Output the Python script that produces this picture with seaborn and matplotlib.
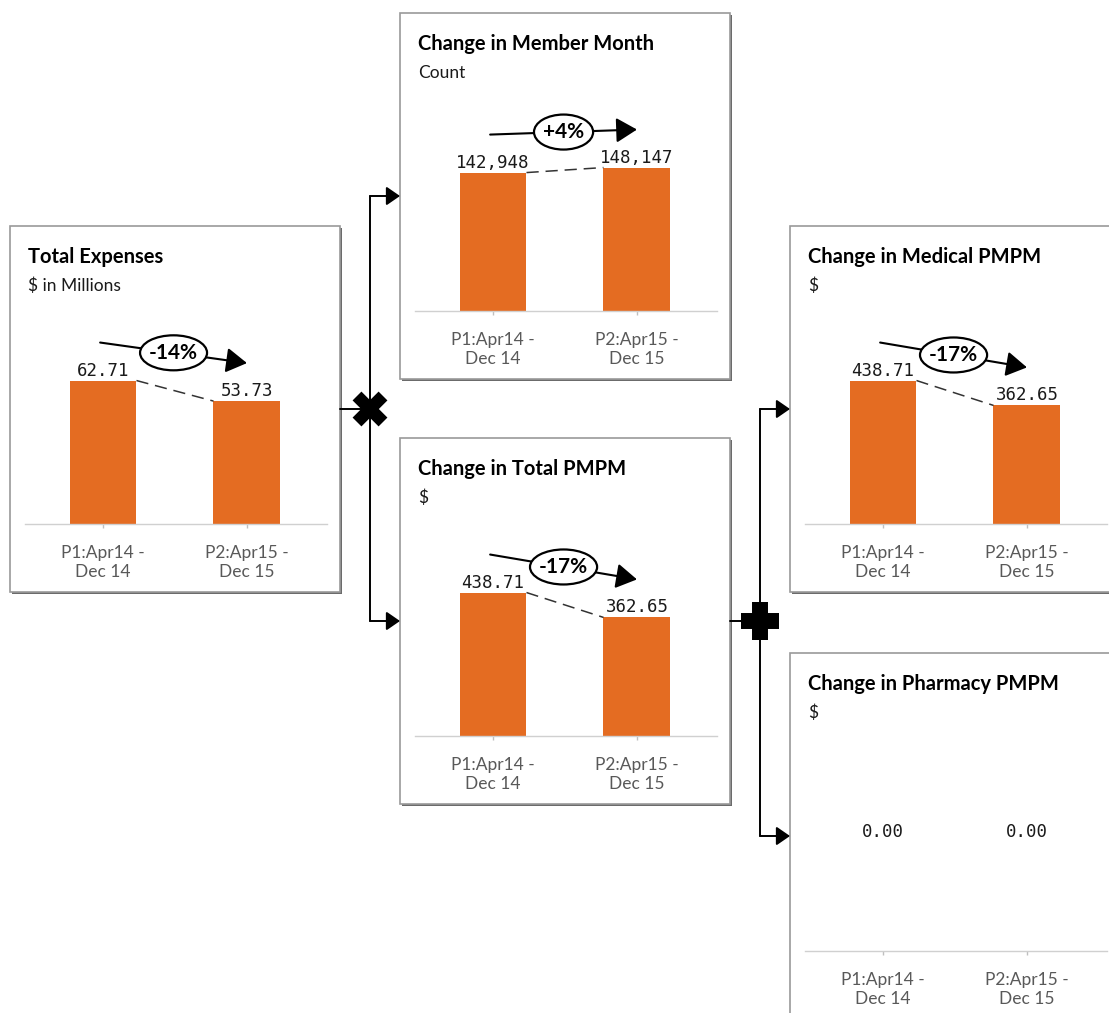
import matplotlib
matplotlib.use("Agg")
import matplotlib.pyplot as plt
import matplotlib.transforms as mtransforms
from matplotlib.patches import Rectangle, Ellipse
import seaborn as sns
import pandas as pd

# ---- data -------------------------------------------------------------
periods = ["P1:Apr14 -\nDec 14", "P2:Apr15 -\nDec 15"]

total_expenses = [62.71, 53.73]        # $ in millions
member_months = [142948, 148147]       # count
total_pmpm = [438.71, 362.65]          # $
medical_pmpm = [438.71, 362.65]        # $
pharmacy_pmpm = [0.00, 0.00]           # $

titles = ["Total Expenses", "Change in Member Month", "Change in Total PMPM",
          "Change in Medical PMPM", "Change in Pharmacy PMPM"]
subtitles = ["$ in Millions", "Count", "$", "$", "$"]
value_formats = ["{:,.2f}", "{:,.0f}", "{:,.2f}", "{:,.2f}", "{:,.2f}"]
series = [total_expenses, member_months, total_pmpm, medical_pmpm, pharmacy_pmpm]

# ---- styling / layout ---------------------------------------------------
W, H = 1109, 1013
ORANGE = "#E46C22"
sns.set_theme(style="white")
plt.rcParams["font.family"] = ["Lato", "DejaVu Sans"]

BOX_W, BOX_H = 330, 366
# top-left corner of each card (pixels)
card_xy = [(10, 226), (400, 13), (400, 438), (790, 226), (790, 653)]

fig = plt.figure(figsize=(W / 100, H / 100), dpi=100)
ov = fig.add_axes([0, 0, 1, 1])
ov.set_xlim(0, W)
ov.set_ylim(H, 0)
ov.axis("off")
ov.set_zorder(0)

renderer = fig.canvas.get_renderer()


def card(left, top):
    ov.add_patch(Rectangle((left + 2, top + 2), BOX_W, BOX_H, fc="#6b6b6b",
                           ec="none", zorder=1))
    ov.add_patch(Rectangle((left, top), BOX_W, BOX_H, fc="white",
                           ec="#9a9a9a", lw=1.2, zorder=2))


def panel(idx):
    left, top = card_xy[idx]
    vals = series[idx]
    fmt = value_formats[idx]
    card(left, top)
    ov.text(left + 18, top + 37, titles[idx], fontsize=14.5, fontweight="bold",
            color="black", va="baseline", ha="left", zorder=3)
    ov.text(left + 18, top + 65, subtitles[idx], fontsize=12.5,
            color="#1a1a1a", va="baseline", ha="left", zorder=3)

    base = top + 298
    ax = fig.add_axes([(left + 15) / W, 1 - base / H, 302 / W, 170 / H])
    ax.set_zorder(2)
    ax.patch.set_alpha(0)
    df = pd.DataFrame({"period": periods, "value": vals})
    bw = 0.465
    sns.barplot(data=df, x="period", y="value", color=ORANGE, saturation=1,
                width=bw, linewidth=0, ax=ax)
    ax.set_xlim(-0.542, 1.556)
    vmax = max(vals)
    ax.set_ylim(0, vmax * 1.185 if vmax > 0 else 1)
    ax.set_xlabel("")
    ax.set_ylabel("")
    ax.set_yticks([])
    for s in ("top", "left", "right"):
        ax.spines[s].set_visible(False)
    ax.spines["bottom"].set_color("#d0d0d0")
    ax.spines["bottom"].set_linewidth(1)
    ax.tick_params(axis="x", bottom=True, length=3, width=1, color="#bfbfbf",
                   pad=12, labelsize=12.5, labelcolor="#595959")
    for lab in ax.get_xticklabels():
        lab.set_linespacing(1.22)

    # value labels
    for i, v in enumerate(vals):
        if vmax > 0:
            xy, coords = (i, v), "data"
        else:
            xy, coords = (i, 0.64), ("data", "axes fraction")
        ax.annotate(fmt.format(v), xy=xy, xycoords=coords, xytext=(0, 3.6),
                    textcoords="offset points", ha="center", va="baseline",
                    fontfamily="DejaVu Sans Mono", fontsize=12.5, color="#1a1a1a",
                    annotation_clip=False)

    if vmax <= 0:
        return ax

    v1, v2 = vals
    # dashed link between bar tops
    ax.plot([bw / 2, 1 - bw / 2], [v1, v2], color="#333333", lw=1.1,
            ls=(0, (8, 4.5)), clip_on=False, zorder=3)

    # trend arrow with percent bubble
    lift = mtransforms.offset_copy(ax.transData, fig=fig, y=38, units="dots")
    ax.annotate("", xy=(1.0, v2), xycoords=lift, xytext=(-0.02, v1), textcoords=lift,
                arrowprops=dict(arrowstyle="-|>,head_length=0.75,head_width=0.45",
                                mutation_scale=17, lw=1.5, color="black",
                                shrinkA=0, shrinkB=0),
                annotation_clip=False, zorder=4)
    pct = (v2 / v1 - 1) * 100
    t = ax.text(0.49, (v1 + v2) / 2, f"{pct:+.0f}%", transform=lift, ha="center",
                va="center", fontsize=15, fontweight="bold", color="black",
                zorder=6)
    bb = t.get_window_extent(renderer=renderer)
    cx, cy = (bb.x0 + bb.x1) / 2, (bb.y0 + bb.y1) / 2
    ell = Ellipse((cx, cy), bb.width + 18, 35, transform=mtransforms.IdentityTransform(),
                  fc="white", ec="black", lw=1.6, zorder=5, clip_on=False)
    ax.add_artist(ell)
    return ax


for k in range(len(series)):
    panel(k)

# ---- connectors -----------------------------------------------------------
def mid_y(idx):
    return card_xy[idx][1] + BOX_H / 2


def arrow_to(x0, x1, y):
    ov.annotate("", xy=(x1, y), xytext=(x0, y),
                arrowprops=dict(arrowstyle="-|>,head_length=0.55,head_width=0.38",
                                mutation_scale=15, lw=1.4, color="black",
                                shrinkA=0, shrinkB=0), zorder=4)


# Total Expenses = Member Month x Total PMPM
tx = (card_xy[0][0] + BOX_W + card_xy[1][0]) / 2
ov.plot([card_xy[0][0] + BOX_W, tx], [mid_y(0), mid_y(0)], color="black", lw=1.4, zorder=4)
ov.plot([tx, tx], [mid_y(1), mid_y(2)], color="black", lw=1.4, zorder=4)
arrow_to(tx, card_xy[1][0], mid_y(1))
arrow_to(tx, card_xy[2][0], mid_y(2))
d = 13
for sx in (1, -1):
    ov.plot([tx - d, tx + d], [mid_y(0) - sx * d, mid_y(0) + sx * d], color="black",
            lw=9, solid_capstyle="butt", zorder=5)

# Total PMPM = Medical PMPM + Pharmacy PMPM
px = (card_xy[2][0] + BOX_W + card_xy[3][0]) / 2
ov.plot([card_xy[2][0] + BOX_W, px], [mid_y(2), mid_y(2)], color="black", lw=1.4, zorder=4)
ov.plot([px, px], [mid_y(3), mid_y(4)], color="black", lw=1.4, zorder=4)
arrow_to(px, card_xy[3][0], mid_y(3))
arrow_to(px, card_xy[4][0], mid_y(4))
a = 19
ov.plot([px - a, px + a], [mid_y(2), mid_y(2)], color="black", lw=11.5,
        solid_capstyle="butt", zorder=5)
ov.plot([px, px], [mid_y(2) - a, mid_y(2) + a], color="black", lw=11.5,
        solid_capstyle="butt", zorder=5)

fig.savefig("out.png", dpi=100)
